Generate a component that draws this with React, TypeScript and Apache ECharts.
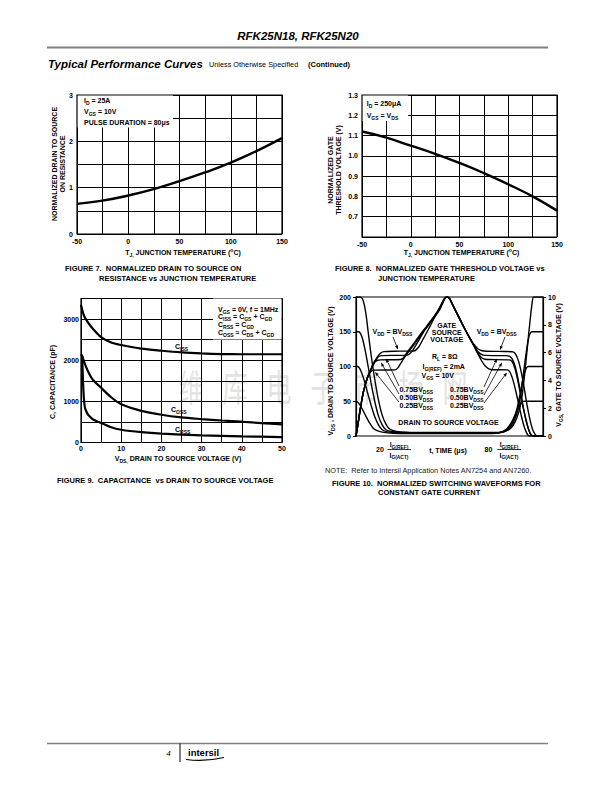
import React, { useEffect, useRef } from "react";
import * as echarts from "echarts";

const FONT = "'Liberation Sans', Arial, Helvetica, sans-serif";

// ---------- Figure 7 : normalized Rds(on) vs Tj ----------
const fig7Temp = [-50, -25, 0, 25, 50, 75, 100, 125, 150];
const fig7Rds = [0.65, 0.72, 0.83, 0.97, 1.14, 1.33, 1.54, 1.79, 2.07];
const fig7YLabels = [0, 1, 2, 3];

// ---------- Figure 8 : normalized gate threshold vs Tj ----------
const fig8Temp = [-50, -25, 0, 25, 50, 75, 100, 125, 150];
const fig8Vth = [1.12, 1.09, 1.05, 1.01, 0.965, 0.915, 0.86, 0.8, 0.73];
const fig8YLabels = [0.7, 0.8, 0.9, 1.0, 1.1, 1.2, 1.3];
const tempLabels = [-50, 0, 50, 100, 150];

// ---------- Figure 9 : capacitance vs Vds ----------
const cissV = [0, 0.5, 1, 2, 3, 5, 7.5, 10, 15, 20, 25, 30, 35, 40, 45, 50];
const cissC = [3350, 3150, 3030, 2880, 2760, 2560, 2430, 2370, 2280, 2230, 2190, 2165, 2150, 2145, 2145, 2145];
const cossV = [0, 0.3, 1, 2, 3, 5, 7.5, 10, 15, 20, 25, 30, 35, 40, 45, 50];
const cossC = [2150, 2100, 1900, 1680, 1520, 1330, 1100, 930, 770, 675, 610, 570, 535, 505, 470, 440];
const crssV = [0.3, 0.5, 0.7, 1, 1.5, 2, 3, 5, 7.5, 10, 15, 20, 30, 40, 50];
const crssC = [2100, 1500, 1100, 840, 720, 650, 560, 475, 370, 310, 250, 215, 175, 150, 130];
const fig9XLabels = [0, 10, 20, 30, 40, 50];
const fig9YLabels = [0, 1000, 2000, 3000];

// ---------- Figure 10 : switching waveforms ([t, value]) ----------
const vds100: [number, number][] = [
  [0, 200], [2.5, 200], [3.5, 197], [4.5, 188], [5.5, 172], [6.5, 150], [8, 118], [10, 82], [12, 52], [14, 30],
  [16, 17], [18, 10], [21, 7], [26, 5.5], [40, 5], [60, 5], [72, 5], [78, 5.5], [81, 8], [83, 12], [85, 20],
  [87, 34], [88.5, 52], [90, 84], [91.5, 124], [93, 164], [94.2, 192], [95, 200], [100, 200],
];
const vds75: [number, number][] = [
  [0, 150], [1.5, 150], [2.5, 147], [3.5, 140], [5, 122], [6.5, 100], [8, 77], [10, 50], [12, 29], [14, 16],
  [16, 9], [19, 6.5], [26, 5], [40, 4.5], [60, 4.5], [71, 4.5], [77, 5], [80, 7], [82, 11], [84, 19], [86, 32],
  [87.5, 50], [89, 78], [90.5, 110], [92, 137], [93, 147], [94, 150], [100, 150],
];
const vds50: [number, number][] = [
  [0, 100], [1, 100], [2, 97], [3, 91], [4.5, 79], [6, 64], [8, 45], [10, 28], [12, 16], [14, 9], [17, 6],
  [24, 4.5], [40, 4], [60, 4], [70, 4], [76, 4.5], [79, 6.5], [81, 10], [83, 17], [85, 29], [86.5, 44],
  [88, 64], [89.5, 85], [91, 97], [92, 100], [100, 100],
];
const vds25: [number, number][] = [
  [0, 50], [0.8, 49], [2, 45], [3.5, 38], [5, 30], [7, 20], [9, 12], [11, 8], [14, 5.5], [20, 4], [40, 3.5],
  [60, 3.5], [70, 3.5], [75, 4], [78, 6], [80, 9], [82, 15], [84, 24], [85.5, 33], [87, 42], [88.5, 48],
  [90, 50], [100, 50],
];
const vgs100: [number, number][] = [
  [0, 0], [1, 0.8], [2, 1.7], [3, 2.5], [4, 3.2], [5, 3.7], [6, 4.15], [7, 4.5], [8, 4.8], [9, 5.15],
  [10.5, 5.5], [12, 5.8], [13.5, 6.0], [15, 6.07], [20, 6.1], [31, 6.12], [32.5, 6.25], [34, 6.5], [37, 7.25],
  [40, 8.0], [43, 8.8], [45.5, 9.45], [47, 9.85], [48.5, 10], [50, 9.9], [52, 9.35], [55, 8.55], [58, 7.75],
  [61, 7.0], [63, 6.6], [65, 6.3], [67, 6.15], [70, 6.1], [80, 6.08], [84, 6.05], [85.5, 5.85], [87, 5.35],
  [88.5, 4.5], [90, 3.4], [91.5, 2.2], [93, 1.2], [94.5, 0.45], [96, 0.08], [97, 0], [100, 0],
];
const vgs75: [number, number][] = [
  [0, 0], [1, 0.8], [2, 1.7], [3, 2.5], [4, 3.2], [5, 3.7], [6, 4.15], [7, 4.5], [8, 4.8], [9, 5.1],
  [10.5, 5.45], [12, 5.7], [13.5, 5.78], [20, 5.8], [27.5, 5.82], [29, 5.95], [30.5, 6.2], [33, 6.75],
  [36, 7.45], [39, 8.1], [42, 8.65], [45, 9.25], [47, 9.8], [48.5, 10], [50, 9.9], [52, 9.35], [55, 8.55],
  [58, 7.75], [61, 7.0], [63, 6.55], [65, 6.1], [67, 5.88], [69, 5.8], [80, 5.78], [82, 5.75], [83.5, 5.55],
  [85, 5.05], [86.5, 4.2], [88, 3.1], [89.5, 2.0], [91, 1.1], [92.5, 0.4], [94, 0.06], [95, 0], [100, 0],
];
const vgs50: [number, number][] = [
  [0, 0], [1, 0.8], [2, 1.7], [3, 2.5], [4, 3.2], [5, 3.7], [6, 4.15], [7, 4.5], [8, 4.78], [9, 5.05],
  [10, 5.3], [11.5, 5.45], [13, 5.48], [24, 5.5], [25.5, 5.65], [27, 5.95], [30, 6.5], [33, 7.05], [36, 7.6],
  [39, 8.1], [42, 8.6], [45, 9.2], [47, 9.8], [48.5, 10], [50, 9.9], [52, 9.35], [55, 8.55], [58, 7.75],
  [61, 7.0], [63, 6.5], [65, 6.0], [67, 5.65], [69, 5.52], [71, 5.5], [82, 5.48], [83.5, 5.35], [85, 4.85],
  [86.5, 4.0], [88, 3.0], [89.5, 2.0], [91, 1.1], [92.5, 0.4], [93.5, 0.08], [94.5, 0], [100, 0],
];
const vgs25: [number, number][] = [
  [0, 0], [1, 0.8], [2, 1.7], [3, 2.5], [4, 3.2], [5, 3.7], [6, 4.15], [7, 4.45], [8, 4.65], [9.5, 4.74],
  [21, 4.76], [22.5, 4.92], [24, 5.25], [27, 5.85], [30, 6.4], [33, 6.95], [36, 7.5], [39, 8.0], [42, 8.55],
  [45, 9.15], [47, 9.75], [48.5, 10], [50, 9.9], [52, 9.35], [55, 8.55], [58, 7.75], [61, 7.0], [63, 6.5],
  [65, 5.95], [67, 5.45], [69, 5.05], [71, 4.83], [73, 4.77], [81, 4.76], [82.5, 4.55], [84, 4.0],
  [85.5, 3.2], [87, 2.3], [88.5, 1.4], [90, 0.65], [91.5, 0.15], [92.5, 0], [100, 0],
];
const fig10LeftLabels = [0, 50, 100, 150, 200];
const fig10RightLabels = [0, 2, 4, 6, 8, 10];

// ---------- helpers ----------
const pick = (list: number[], fmt: (v: number) => string = (v) => String(v)) => (v: number) =>
  list.some((t) => Math.abs(t - v) < 1e-6) ? fmt(v) : "";

const richFor = (size: number, weight: string) => ({
  s: { fontSize: size * 0.72, fontWeight: weight, fontFamily: FONT, verticalAlign: "bottom", lineHeight: size * 0.7 },
  p: { fontSize: size * 0.72, fontWeight: weight, fontFamily: FONT, verticalAlign: "top", lineHeight: size * 0.7 },
});

function T(x: number, y: number, text: string, o: any = {}) {
  const size = o.size ?? 7;
  const weight = o.weight ?? "bold";
  const align = o.align ?? "left";
  return {
    type: "text",
    x,
    y,
    rotation: o.rot ?? 0,
    scaleY: o.scaleY ?? 1,
    z: o.z ?? 100,
    silent: true,
    style: {
      text,
      fill: o.fill ?? "#000",
      fontSize: size,
      fontWeight: weight,
      fontStyle: o.italic ? "italic" : "normal",
      fontFamily: o.family ?? FONT,
      align,
      textAlign: align,
      verticalAlign: "middle",
      textVerticalAlign: "middle",
      lineHeight: o.lh ?? Math.round(size * 1.4),
      rich: richFor(size, weight),
    },
  };
}
const L = (x1: number, y1: number, x2: number, y2: number, stroke = "#000", w = 1) => ({
  type: "line", z: 100, silent: true, shape: { x1, y1, x2, y2 }, style: { stroke, lineWidth: w },
});
const box = (x: number, y: number, w: number, h: number) => ({
  type: "rect", z: 50, silent: true, shape: { x, y, width: w, height: h }, style: { fill: "#fff" },
});
function arrow(x1: number, y1: number, x2: number, y2: number) {
  const len = Math.hypot(x2 - x1, y2 - y1);
  const dx = (x2 - x1) / len, dy = (y2 - y1) / len;
  const bx = x2 - dx * 4, by = y2 - dy * 4;
  const nx = -dy * 1.6, ny = dx * 1.6;
  return [
    L(x1, y1, bx, by, "#000", 0.8),
    { type: "polygon", z: 100, silent: true, shape: { points: [[x2, y2], [bx + nx, by + ny], [bx - nx, by - ny]] }, style: { fill: "#000" } },
  ];
}

const axLabel = (list: number[], fmt?: (v: number) => string, margin = 4) => ({
  fontSize: 7, fontWeight: "bold", color: "#000", fontFamily: FONT, margin,
  formatter: pick(list, fmt), showMinLabel: true, showMaxLabel: true,
});
const gridLine = { show: true, lineStyle: { color: "#000", width: 1 } };
const gridBox = (left: number, top: number, width: number, height: number) => ({
  left, top, width, height, show: true, borderColor: "#000", borderWidth: 1.2, backgroundColor: "transparent",
});
const curve = (xi: number, yi: number, data: any[], w: number, smooth: number) => ({
  type: "line", xAxisIndex: xi, yAxisIndex: yi, data, symbol: "none", smooth,
  lineStyle: { color: "#000", width: w }, silent: true, z: 3,
});

const ROT = Math.PI / 2;
const watermarkChars = ["维", "库", "电", "子", "市", "场", "网"];

function buildGraphic() {
  const g: any[] = [];
  // watermark
  watermarkChars.forEach((c, i) =>
    g.push(T(191 + i * 44, 386, c, { size: 25, weight: "normal", family: "'Noto Sans CJK SC', sans-serif", fill: "#e3e3e3", align: "center", scaleY: 1.5, z: -1 }))
  );
  // header
  g.push(T(298, 36, "RFK25N18, RFK25N20", { size: 11.5, italic: true, align: "center" }));
  g.push(L(47, 47.5, 548, 47.5, "#808080", 2));
  g.push(T(48, 64, "Typical Performance Curves", { size: 11.5, italic: true }));
  g.push(T(209, 64.5, "Unless Otherwise Specified", { size: 7.3, weight: "normal" }));
  g.push(T(308, 64.5, "(Continued)", { size: 7.5 }));

  // fig 7
  g.push(box(77.6, 95.6, 95.5, 32));
  g.push(T(84, 100.5, "I{s|D} = 25A"));
  g.push(T(84, 111.5, "V{s|GS} = 10V"));
  g.push(T(84, 122.5, "PULSE DURATION = 80μs"));
  g.push(T(58.5, 164, "NORMALIZED DRAIN TO SOURCE\nON RESISTANCE", { rot: ROT, align: "center", lh: 8.5 }));
  g.push(T(183, 252, "T{s|J,} JUNCTION TEMPERATURE ({p|o}C)", { align: "center" }));
  g.push(T(65, 268, "FIGURE 7.  NORMALIZED DRAIN TO SOURCE ON", { size: 7.5 }));
  g.push(T(99, 278, "RESISTANCE vs JUNCTION TEMPERATURE", { size: 7.5 }));

  // fig 8
  g.push(box(362.6, 95.6, 45.5, 25.5));
  g.push(T(366.7, 103.5, "I{s|D} = 250μA"));
  g.push(T(366.7, 115.7, "V{s|GS} = V{s|DS}"));
  g.push(T(334.5, 170, "NORMALIZED GATE\nTHRESHOLD VOLTAGE (V)", { rot: ROT, align: "center", lh: 8.5 }));
  g.push(T(461.5, 252, "T{s|J,} JUNCTION TEMPERATURE ({p|o}C)", { align: "center" }));
  g.push(T(335, 268, "FIGURE 8.  NORMALIZED GATE THRESHOLD VOLTAGE vs", { size: 7.5 }));
  g.push(T(378, 278, "JUNCTION TEMPERATURE", { size: 7.5 }));

  // fig 9
  g.push(box(213, 298.6, 68.4, 41));
  g.push(T(218, 309, "V{s|GS} = 0V, f = 1MHz"));
  g.push(T(218, 316.5, "C{s|ISS} = C{s|GS} + C{s|GD}"));
  g.push(T(218, 324.3, "C{s|RSS} = C{s|GD}"));
  g.push(T(218, 332, "C{s|OSS} ≈ C{s|DS} + C{s|GD}"));
  g.push(T(175, 346.7, "C{s|ISS}"));
  g.push(T(171, 409, "C{s|OSS}"));
  g.push(T(175, 429, "C{s|RSS}"));
  g.push(T(52.7, 382, "C, CAPACITANCE (pF)", { rot: ROT, align: "center" }));
  g.push(T(178, 458, "V{s|DS,} DRAIN TO SOURCE VOLTAGE (V)", { align: "center" }));
  g.push(T(57, 480, "FIGURE 9.  CAPACITANCE  vs DRAIN TO SOURCE VOLTAGE", { size: 7.5 }));

  // fig 10
  g.push(T(330, 371, "V{s|DS} , DRAIN TO SOURCE VOLTAGE (V)", { rot: ROT, align: "center" }));
  g.push(T(558.5, 365, "V{s|GS,} GATE TO SOURCE VOLTAGE (V)", { rot: ROT, align: "center" }));
  g.push(T(392.5, 331.7, "V{s|DD} = BV{s|DSS}", { align: "center" }));
  g.push(...arrow(393, 337, 398, 349.5));
  g.push(T(446.7, 325, "GATE", { align: "center" }));
  g.push(T(446.7, 332.3, "SOURCE", { align: "center" }));
  g.push(T(446.7, 339.6, "VOLTAGE", { align: "center" }));
  g.push(T(496.7, 331.7, "V{s|DD} = BV{s|DSS}", { align: "center" }));
  g.push(...arrow(505, 337, 500, 350));
  g.push(T(432, 356.7, "R{s|L} = 8Ω"));
  g.push(T(422.5, 366.7, "I{s|G(REF)} = 2mA"));
  g.push(T(421.5, 375, "V{s|GS} = 10V"));
  g.push(T(399.5, 389.3, "0.75BV{s|DSS}"));
  g.push(T(399.5, 397.3, "0.50BV{s|DSS}"));
  g.push(T(399.5, 405.3, "0.25BV{s|DSS}"));
  g.push(...arrow(399, 386, 386, 358.5));
  g.push(...arrow(399, 394, 381, 362.5));
  g.push(...arrow(399, 402, 375, 372));
  g.push(T(450, 389.3, "0.75BV{s|DSS}"));
  g.push(T(450, 397.3, "0.50BV{s|DSS}"));
  g.push(T(450, 405.3, "0.25BV{s|DSS}"));
  g.push(...arrow(484, 387, 497, 358.5));
  g.push(...arrow(484, 395, 502, 362.5));
  g.push(...arrow(484, 403, 507, 372.5));
  g.push(T(448.5, 422.3, "DRAIN TO SOURCE VOLTAGE", { align: "center" }));
  // time axis labels
  g.push(T(380, 449, "20", { align: "center" }));
  g.push(T(399, 444.5, "I{s|G(REF)}", { align: "center", size: 6.8 }));
  g.push(L(387.5, 449.5, 411, 449.5, "#000", 0.8));
  g.push(T(399, 455, "I{s|G(ACT)}", { align: "center", size: 6.8 }));
  g.push(T(448, 450, "t, TIME (μs)", { align: "center" }));
  g.push(T(488.5, 449, "80", { align: "center" }));
  g.push(T(509, 444.5, "I{s|G(REF)}", { align: "center", size: 6.8 }));
  g.push(L(497.5, 449.5, 521, 449.5, "#000", 0.8));
  g.push(T(509, 455, "I{s|G(ACT)}", { align: "center", size: 6.8 }));
  g.push(T(325, 470, "NOTE:  Refer to Intersil Application Notes AN7254 and AN7260.", { size: 7.3, weight: "normal", fill: "#222" }));
  g.push(T(332, 483, "FIGURE 10.  NORMALIZED SWITCHING WAVEFORMS FOR", { size: 7.5 }));
  g.push(T(378, 492, "CONSTANT GATE CURRENT", { size: 7.5 }));

  // footer
  g.push(L(47, 743.5, 548, 743.5, "#808080", 1.5));
  g.push(L(180, 743.5, 180, 762, "#000", 1));
  g.push(T(168.5, 753, "4", { size: 7.5, weight: "normal", italic: true, align: "center" }));
  g.push(T(188, 752.5, "intersil", { size: 9.5 }));
  g.push({
    type: "bezierCurve", z: 100, silent: true,
    shape: { x1: 186, y1: 759.5, x2: 224, y2: 757.5, cpx1: 205, cpy1: 762 },
    style: { stroke: "#000", lineWidth: 1.2, fill: "none" },
  });
  return g;
}

export default function App() {
  const ref = useRef<HTMLDivElement>(null);
  useEffect(() => {
    if (!ref.current) return;
    const chart = echarts.init(ref.current, undefined, { renderer: "svg" });
    const noAxisLine = { show: false };
    const noTick = { show: false };
    const option: any = {
      animation: false,
      backgroundColor: "#fff",
      grid: [
        gridBox(77, 95, 205, 139),
        gridBox(362, 95, 195, 142),
        gridBox(81, 298.5, 201, 144),
        gridBox(356, 297, 187, 139),
      ],
      xAxis: [
        { gridIndex: 0, type: "value", min: -50, max: 150, interval: 25, axisLine: noAxisLine, axisTick: noTick, splitLine: gridLine, axisLabel: axLabel(tempLabels) },
        { gridIndex: 1, type: "value", min: -50, max: 150, interval: 25, axisLine: noAxisLine, axisTick: noTick, splitLine: gridLine, axisLabel: axLabel(tempLabels) },
        { gridIndex: 2, type: "value", min: 0, max: 50, interval: 5, axisLine: noAxisLine, axisTick: noTick, splitLine: gridLine, axisLabel: axLabel(fig9XLabels, undefined, 2) },
        { gridIndex: 3, type: "value", min: 0, max: 100, show: false },
      ],
      yAxis: [
        { gridIndex: 0, type: "value", min: 0, max: 3, interval: 0.5, axisLine: noAxisLine, axisTick: noTick, splitLine: gridLine, axisLabel: axLabel(fig7YLabels) },
        { gridIndex: 1, type: "value", min: 0.6, max: 1.3, interval: 0.1, axisLine: noAxisLine, axisTick: noTick, splitLine: gridLine, axisLabel: axLabel(fig8YLabels, (v) => v.toFixed(1)) },
        { gridIndex: 2, type: "value", min: 0, max: 3500, interval: 500, axisLine: noAxisLine, axisTick: noTick, splitLine: gridLine, axisLabel: axLabel(fig9YLabels, undefined, 2) },
        {
          gridIndex: 3, type: "value", min: 0, max: 200, interval: 50, splitLine: { show: false },
          axisLine: { show: true, lineStyle: { color: "#000", width: 1.2 } },
          axisTick: { show: true, length: 3, lineStyle: { color: "#000", width: 1 } },
          axisLabel: axLabel(fig10LeftLabels, undefined, 5),
        },
        {
          gridIndex: 3, type: "value", position: "right", min: 0, max: 10, interval: 2, splitLine: { show: false },
          axisLine: { show: true, lineStyle: { color: "#000", width: 1.2 } },
          axisTick: { show: true, length: 3, lineStyle: { color: "#000", width: 1 } },
          axisLabel: axLabel(fig10RightLabels, undefined, 5),
        },
      ],
      series: [
        curve(0, 0, fig7Temp.map((t, i) => [t, fig7Rds[i]]), 2.4, 0.5),
        curve(1, 1, fig8Temp.map((t, i) => [t, fig8Vth[i]]), 2.4, 0.5),
        curve(2, 2, cissV.map((v, i) => [v, cissC[i]]), 2.2, 0.3),
        curve(2, 2, cossV.map((v, i) => [v, cossC[i]]), 2.2, 0.3),
        curve(2, 2, crssV.map((v, i) => [v, crssC[i]]), 2.2, 0.3),
        curve(3, 3, vds100, 1.4, 0.2),
        curve(3, 3, vds75, 1.4, 0.2),
        curve(3, 3, vds50, 1.4, 0.2),
        curve(3, 3, vds25, 1.4, 0.2),
        curve(3, 4, vgs100, 1.4, 0.2),
        curve(3, 4, vgs75, 1.4, 0.2),
        curve(3, 4, vgs50, 1.4, 0.2),
        curve(3, 4, vgs25, 1.4, 0.2),
      ],
      graphic: buildGraphic(),
    };
    chart.setOption(option);
    return () => chart.dispose();
  }, []);
  return (
    <div
      ref={ref}
      style={{ position: "absolute", left: 0, top: 0, width: 612, height: 792, background: "#fff" }}
    />
  );
}
